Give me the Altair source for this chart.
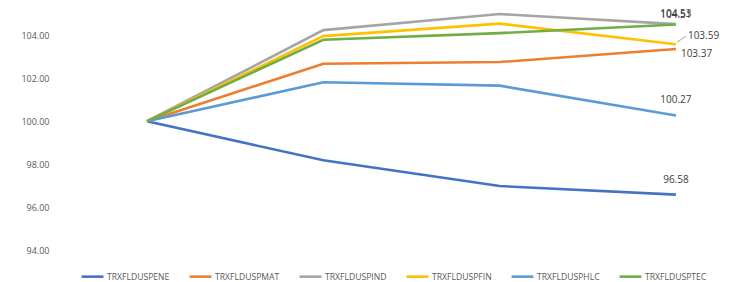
import altair as alt
import pandas as pd

series = ["TRXFLDUSPENE", "TRXFLDUSPMAT", "TRXFLDUSPIND",
          "TRXFLDUSPFIN", "TRXFLDUSPHLC", "TRXFLDUSPTEC"]
colors = ["#4472C4", "#ED7D31", "#A5A5A5", "#FFC000", "#5B9BD5", "#70AD47"]
period = [0, 1, 2, 3]
ene = [100.00, 98.18, 96.98, 96.58]
mat = [100.00, 102.68, 102.76, 103.37]
ind = [100.00, 104.25, 105.00, 104.53]
fin = [100.00, 103.97, 104.55, 103.59]
hlc = [100.00, 101.82, 101.66, 100.27]
tec = [100.00, 103.80, 104.11, 104.51]
y_ticks = [94, 96, 98, 100, 102, 104]

values = [ene, mat, ind, fin, hlc, tec]
rows = []
for i, (s, vals) in enumerate(zip(series, values)):
    for p, v in zip(period, vals):
        rows.append({"series": s, "order": i, "period": p, "value": v})
df = pd.DataFrame(rows)
last = df[df["period"] == period[-1]].copy()
last["label"] = last["value"].map(lambda v: f"{v:.2f}")

FONT = "Open Sans"
xscale = alt.Scale(domain=[-0.522, 3.284], nice=False, zero=False)
yscale = alt.Scale(domain=[94, 105], nice=False, zero=False)

base = alt.Chart(df).encode(
    x=alt.X("period:Q", scale=xscale, axis=None),
    y=alt.Y("value:Q", scale=yscale,
            axis=alt.Axis(values=y_ticks, format=".2f", title=None, domain=False,
                          ticks=False, grid=False, labelFont=FONT, labelFontSize=9,
                          labelColor="#595959", labelPadding=6)),
)

lines = base.mark_line(strokeWidth=2.6, clip=False).encode(
    color=alt.Color("series:N", sort=series,
                    scale=alt.Scale(domain=series, range=colors),
                    legend=alt.Legend(title=None, orient="none", direction="horizontal",
                                      legendX=25, legendY=250, symbolType="stroke",
                                      symbolStrokeWidth=2.6, symbolSize=480,
                                      labelFont=FONT, labelFontSize=8.6,
                                      labelColor="#595959", columnPadding=14,
                                      labelOffset=2)),
    order=alt.Order("order:Q"),
    detail="series:N",
)

lab = alt.Chart(last).encode(
    x=alt.X("period:Q", scale=xscale),
    y=alt.Y("value:Q", scale=yscale),
    text="label:N",
)
text_style = dict(font=FONT, fontSize=10, color="#404040", baseline="middle")
above = lab.transform_filter(
    alt.FieldOneOfPredicate(field="series", oneOf=["TRXFLDUSPENE", "TRXFLDUSPHLC"])
).mark_text(align="center", dy=-15, **text_style)
top = lab.transform_filter(
    alt.FieldOneOfPredicate(field="series", oneOf=["TRXFLDUSPIND", "TRXFLDUSPTEC"])
).mark_text(align="center", dy=-10, **text_style)
right = lab.transform_filter(alt.datum.series == "TRXFLDUSPMAT").mark_text(
    align="left", dx=5, dy=5, **text_style)
fin_lab = lab.transform_filter(alt.datum.series == "TRXFLDUSPFIN").mark_text(
    align="left", dx=12, dy=-8, **text_style)
leader = alt.Chart(last).transform_filter(alt.datum.series == "TRXFLDUSPFIN").mark_rule(
    color="#A6A6A6", strokeWidth=1, xOffset=1, x2Offset=10, yOffset=-2, y2Offset=-8
).encode(
    x=alt.X("period:Q", scale=xscale), x2="period:Q",
    y=alt.Y("value:Q", scale=yscale), y2="value:Q",
)

chart = alt.layer(lines, leader, above, top, right, fin_lab).properties(
    width=671, height=236,
    background="white",
    autosize=alt.AutoSizeParams(type="none"),
    padding={"left": 47, "top": 6, "right": 0, "bottom": 32},
).configure_view(strokeWidth=0, stroke=None)

chart.save("out.html", embed_options={"renderer": "svg", "actions": False})
